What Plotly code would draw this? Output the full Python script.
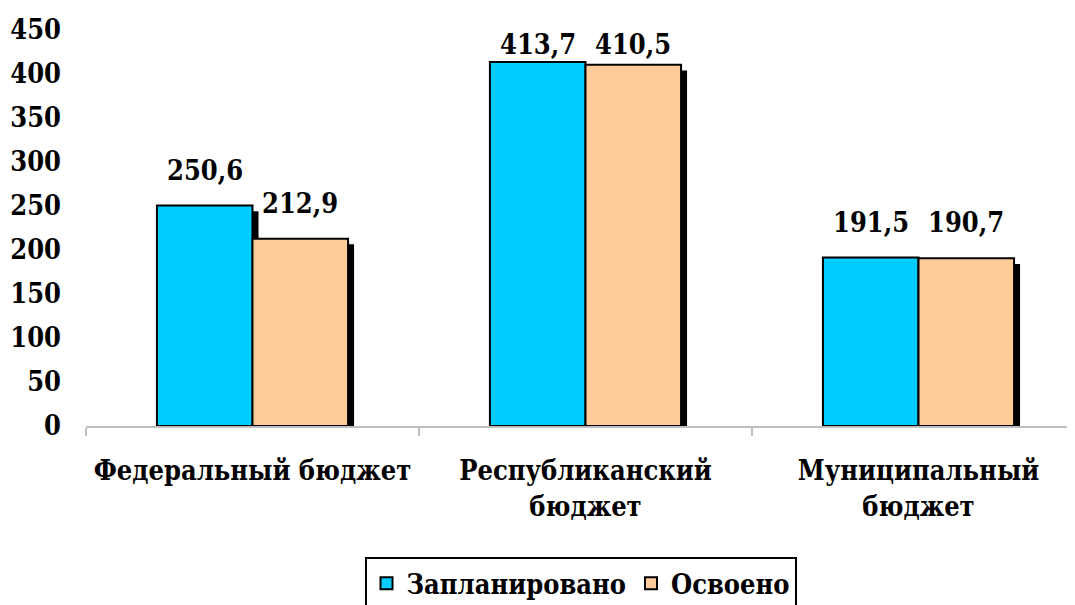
import plotly.graph_objects as go

categories = ["Федеральный бюджет", "Республиканский<br>бюджет", "Муниципальный<br>бюджет"]
planned = [250.6, 413.7, 191.5]
spent = [212.9, 410.5, 190.7]
series_names = ["Запланировано", "Освоено"]
colors = ["#00CCFF", "#FFCC99"]
yticks = [0, 50, 100, 150, 200, 250, 300, 350, 400, 450]

FONT = "DejaVu Serif Condensed, DejaVu Serif"
FS = 27
W = 0.287
SHX = 0.018
SHY = 6.5

def fmt(v):
    return f"{v:.1f}".replace(".", ",")

fig = go.Figure()
for vals, off in [(planned, -W), (spent, 0.0)]:
    fig.add_trace(go.Bar(
        x=categories, y=[v - SHY for v in vals], width=W, offset=off + SHX,
        marker=dict(color="black", line=dict(width=0)), showlegend=False, hoverinfo="skip"))

for vals, off, name, col in [(planned, -W, series_names[0], colors[0]), (spent, 0.0, series_names[1], colors[1])]:
    fig.add_trace(go.Bar(
        x=categories, y=vals, width=W, offset=off, name=f"<b>{name}</b>",
        marker=dict(color=col, line=dict(color="black", width=2))))

anns = []
for vals, off in [(planned, -W), (spent, 0.0)]:
    for i, v in enumerate(vals):
        anns.append(dict(x=i + off + W / 2, y=min(v + 40, 433), text=f"<b>{fmt(v)}</b>", showarrow=False,
                         xref="x", yref="y", yanchor="middle",
                         font=dict(family=FONT, size=FS, color="black")))

fig.update_layout(
    barmode="overlay",
    width=1067, height=597,
    margin=dict(l=78, r=0, t=22, b=179, autoexpand=False),
    paper_bgcolor="white", plot_bgcolor="white",
    font=dict(family=FONT, size=FS, color="black"),
    annotations=anns,
    legend=dict(orientation="h", x=0.5, xanchor="center", yref="container", y=0.080, yanchor="top",
                bordercolor="black", borderwidth=2, font=dict(family=FONT, size=FS),
                itemwidth=30, tracegroupgap=0),
    xaxis=dict(type="category", tickson="boundaries",
               ticktext=[f"<b>{c}</b>" for c in categories], tickvals=categories,
               range=[-0.5, 2.47], showline=True, linecolor="#BFBFBF", linewidth=2,
               ticks="outside", ticklen=8, tickcolor="#BFBFBF", tickwidth=2,
               showgrid=False, zeroline=False, ticklabelstandoff=20, automargin=False,
               tickfont=dict(family=FONT, size=FS, color="black")),
    yaxis=dict(range=[0, 450], tickvals=yticks, ticktext=[f"<b>{t}</b>" for t in yticks],
               showgrid=False, zeroline=False, showline=False, ticks="", automargin=False,
               ticklabelstandoff=24, tickfont=dict(family=FONT, size=FS, color="black")),
)

fig.write_html("out.html")
